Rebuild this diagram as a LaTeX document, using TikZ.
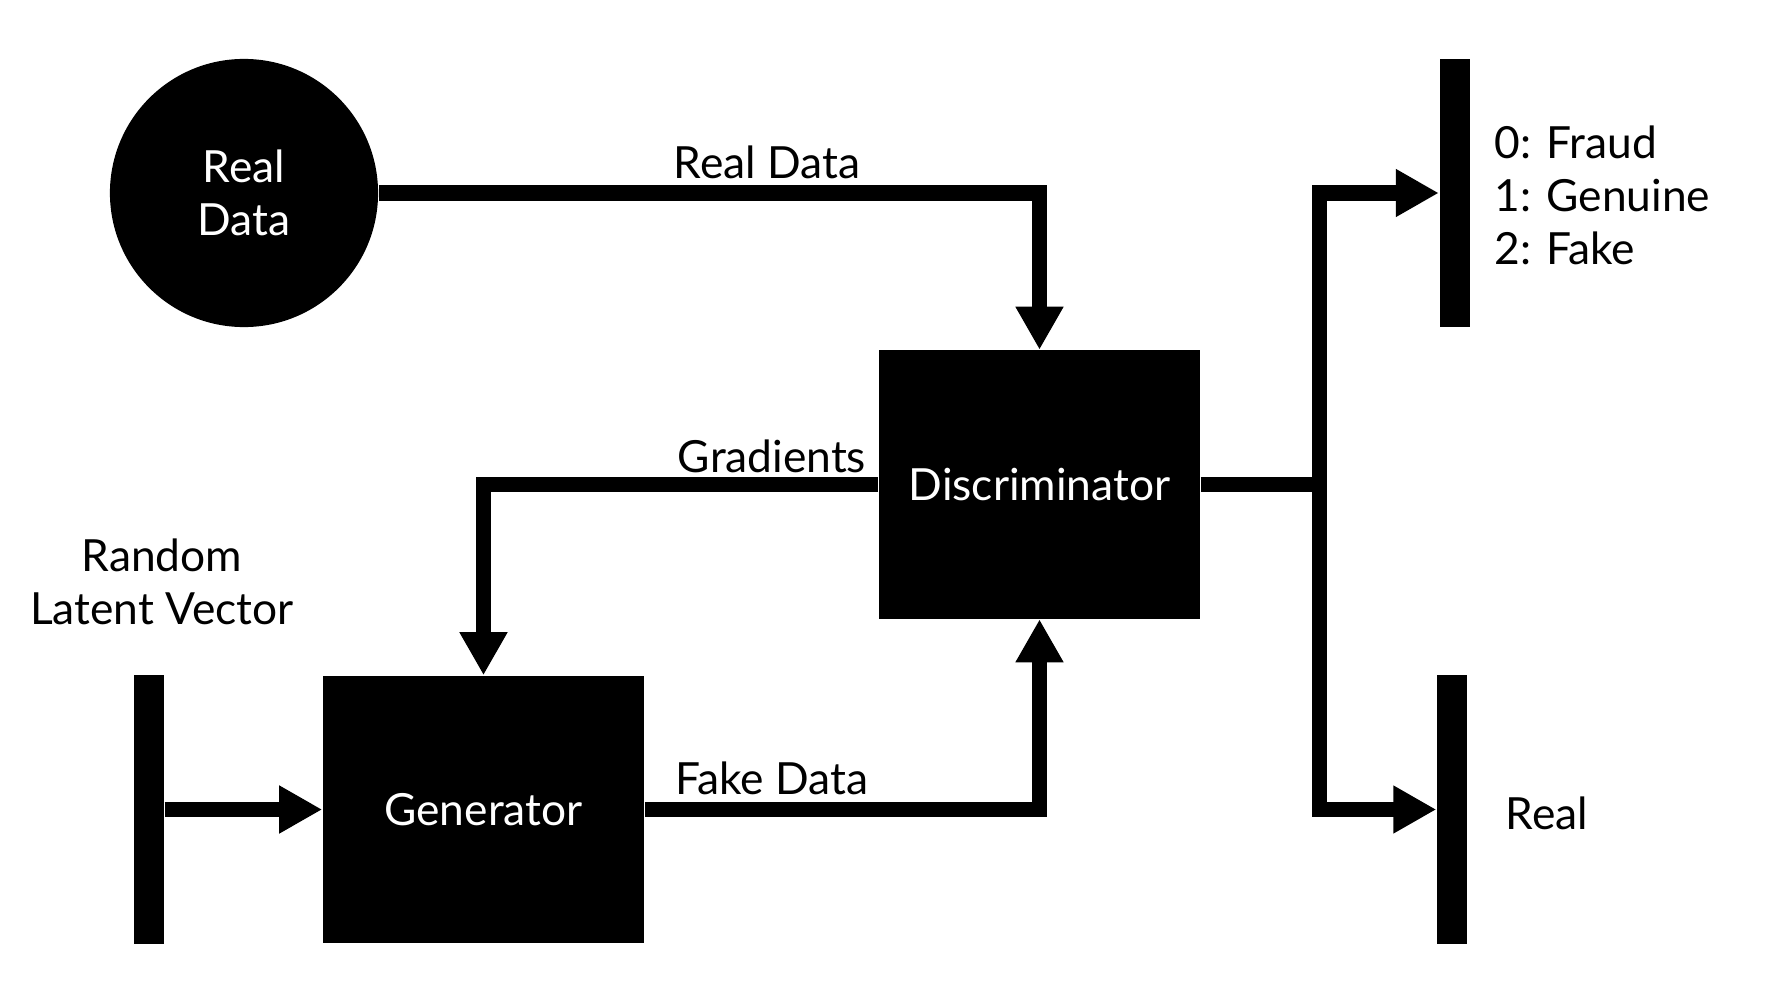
\documentclass[tikz,border=0pt]{standalone}
\usepackage{fontspec}
\setmainfont{Lato}
\usetikzlibrary{arrows.meta}
\begin{document}
\begin{tikzpicture}[x=0.01cm,y=-0.01cm,
  every node/.style={font=\fontsize{12.6}{15.1}\selectfont},
  blk/.style={fill=black,draw=none,text=white,inner sep=0pt,align=center},
  barbox/.style={fill=black,draw=none,inner sep=0pt,minimum width=0.30cm,minimum height=2.68cm},
  conn/.style={line width=0.15cm,line join=miter},
  arr/.style={conn,-{Triangle[length=0.43cm,width=0.45cm]}},
  lbl/.style={anchor=base,inner sep=0pt}]
\useasboundingbox (0,0) rectangle (1778,1000);
\node[blk,circle,minimum size=2.68cm] (circ) at (244,193) {Real\\Data};
\node[blk,minimum width=3.21cm,minimum height=2.68cm] (disc) at (1039.5,484.5) {Discriminator};
\node[blk,minimum width=3.21cm,minimum height=2.67cm] (gen) at (483.5,809.5) {Generator};
\node[barbox] (lbar) at (149,809.5) {};
\node[barbox] (tbar) at (1454.5,193) {};
\node[barbox] (bbar) at (1452,809.5) {};
\coordinate (split) at (1319.5,484.5);
\draw[arr] (circ.east) -| (disc.north);
\draw[arr] (disc.west) -| (gen.north);
\draw[arr] (gen.east) -| (disc.south);
\draw[arr] (lbar.east) -- (gen.west);
\draw[conn] (disc.east) -- ([xshift=0.075cm]split);
\draw[arr] ([yshift=-0.075cm]split) |- (tbar.west);
\draw[arr] ([yshift=0.075cm]split) |- (bbar.west);
\node[lbl] (lreal) at (767,178) {Real Data};
\node[lbl] (lgrad) at (772,472) {Gradients};
\node[lbl] (lfake) at (772,794) {Fake Data};
\node[align=center,inner sep=0pt] (lrand) at (162,582) {Random\\Latent Vector};
\node[align=left,anchor=west,inner sep=0pt] (lout) at (1494,195) {0: Fraud\\1: Genuine\\2: Fake};
\node[anchor=west,inner sep=0pt] (lreal2) at (1505,813) {Real};
\end{tikzpicture}
\end{document}
